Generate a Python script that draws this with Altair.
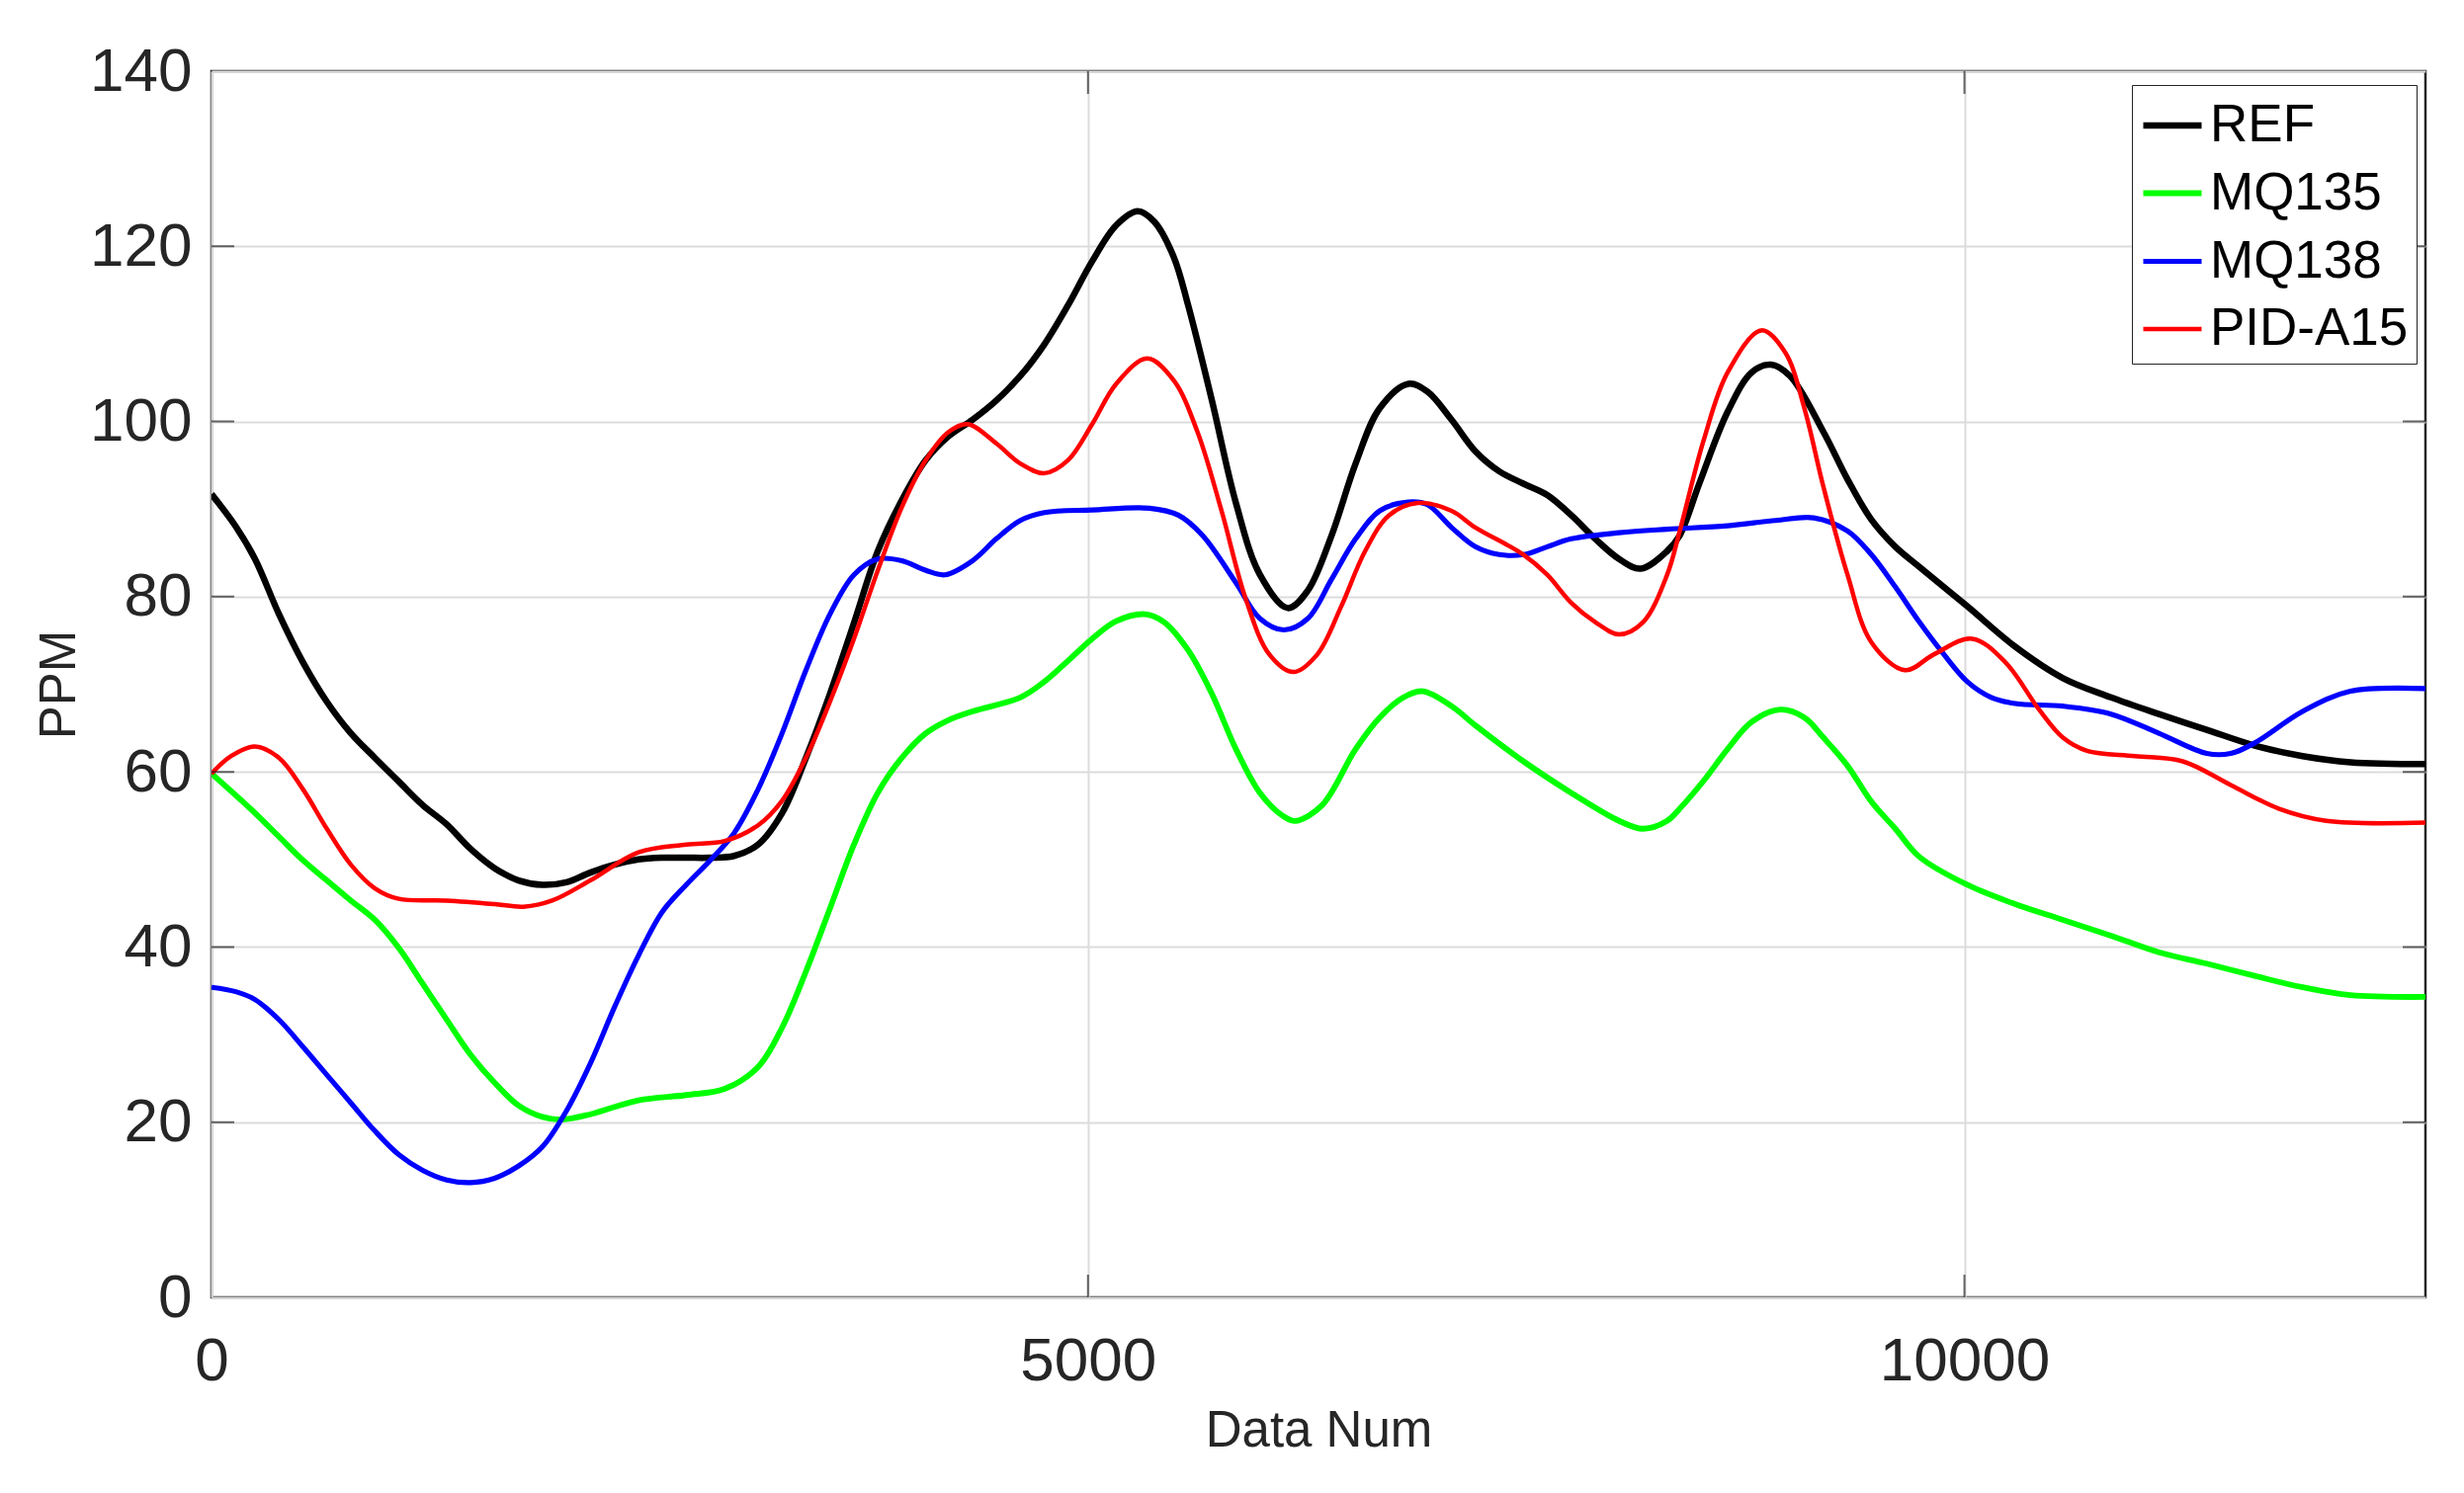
import altair as alt
import pandas as pd

series_order = ["REF", "MQ135", "MQ138", "PID-A15"]
series_colors = ["#000000", "#00ff00", "#0000ff", "#ff0000"]
series_widths = [6.5, 4.5, 4.5, 4.5]

ref_x = [0, 139, 248, 385, 522, 658, 795, 932, 1068, 1205, 1342, 1478, 1615, 1752, 1888, 2025, 2161, 2298,
         2435, 2571, 2708, 2845, 2981, 3118, 3255, 3391, 3528, 3665, 3801, 3938, 4075, 4204, 4341, 4477, 4614,
         4751, 4887, 5024, 5161, 5284, 5379, 5489, 5571, 5707, 5844, 5981, 6140, 6254, 6390, 6527, 6664, 6828,
         6937, 7074, 7210, 7347, 7484, 7620, 7757, 7894, 8030, 8153, 8304, 8376, 8489, 8649, 8786, 8895, 9005,
         9196, 9333, 9469, 9606, 9743, 10016, 10289, 10562, 10836, 11109, 11382, 11656, 11929, 12202, 12630]
ref_y = [91.7, 88, 84.3, 78, 72.5, 68, 64.4, 61.6, 58.9, 56.2, 54, 51.2, 49, 47.6, 47.1, 47.4, 48.5, 49.4,
         50, 50.2, 50.2, 50.2, 50.4, 51.7, 55.3, 61.6, 68.9, 77, 85.2, 91, 95.6, 98.3, 100.2, 102.4, 105.2,
         108.8, 113.3, 118.3, 122.4, 124, 122.8, 118.8, 113.3, 102.4, 90.7, 82.5, 78.7, 80.7, 87, 95.2, 101.5, 104.3,
         103.4, 100.2, 96.6, 94.3, 92.9, 91.6, 89.3, 86.6, 84.3, 83.2, 85.2, 87, 93, 101.1, 105.6, 106.5, 105.2,
         98.8, 93.4, 88.8, 85.7, 83.4, 78.9, 74.3, 70.7, 68.5, 66.6, 64.8, 63, 61.8, 61.1, 60.9]

mq135_x = [0, 248, 385, 522, 658, 795, 932, 1068, 1205, 1342, 1478, 1615, 1752, 1888, 1997, 2161, 2435, 2708,
           2927, 3118, 3255, 3391, 3528, 3665, 3801, 3938, 4075, 4204, 4341, 4614, 4751, 4887, 5024, 5161, 5325,
           5434, 5571, 5707, 5844, 5981, 6117, 6185, 6336, 6527, 6664, 6800, 6910, 7074, 7210, 7484, 7757, 8030,
           8167, 8304, 8376, 8513, 8649, 8786, 8950, 9087, 9196, 9333, 9469, 9606, 9743, 10016, 10289, 10562,
           10836, 11109, 11382, 11656, 11929, 12202, 12630]
mq135_y = [59.8, 55.3, 52.6, 49.9, 47.6, 45.3, 43.1, 39.9, 35.8, 31.7, 27.7, 24.5, 21.9, 20.6, 20.3, 20.9, 22.5, 23.1,
           23.8, 26.3, 30.8, 37.2, 44.4, 51.7, 57.6, 61.6, 64.4, 65.9, 66.9, 68.5, 70.3, 72.7, 75.2, 77.2, 78,
           77.1, 73.9, 68.9, 62.6, 57.6, 54.9, 54.4, 56.2, 62.6, 66.2, 68.5, 69.2, 67.5, 65.3, 61.2, 57.6, 54.4,
           53.5, 54.4, 55.8, 59, 62.6, 65.7, 67.1, 66.2, 63.9, 60.7, 56.6, 53.5, 50.3, 47.1, 44.9, 43.1,
           41.3, 39.4, 38.1, 36.7, 35.4, 34.5, 34.3]

mq138_x = [0, 139, 248, 385, 522, 658, 795, 932, 1068, 1205, 1342, 1478, 1615, 1752, 1888, 2025, 2161, 2298,
           2435, 2571, 2708, 2845, 2981, 3118, 3255, 3391, 3528, 3665, 3801, 3938, 4075, 4184, 4341, 4477, 4614,
           4751, 5024, 5352, 5516, 5653, 5844, 5981, 6117, 6254, 6390, 6527, 6664, 6828, 6937, 7074, 7210, 7347,
           7484, 7620, 7757, 8030, 8304, 8649, 8923, 9141, 9333, 9469, 9606, 9743, 9879, 10016, 10153, 10289,
           10562, 10836, 11109, 11382, 11519, 11656, 11929, 12202, 12630]
mq138_y = [35.4, 34.9, 34, 31.7, 28.6, 25.4, 22.2, 19, 16.3, 14.5, 13.4, 13.1, 13.6, 15, 17.2, 21.3, 26.7, 33.1,
           39, 44, 47.1, 49.9, 53, 58, 64.4, 71.6, 78, 82.5, 84.3, 84.1, 83, 82.5, 84.1, 86.6, 88.7,
           89.6, 89.9, 90.1, 89.3, 87, 81.6, 77.5, 76.2, 77.5, 82, 86.6, 89.8, 90.8, 90.5, 87.9, 85.7, 84.8,
           84.8, 85.7, 86.6, 87.3, 87.7, 88.1, 88.7, 89, 87.5, 84.8, 81.1, 77.1, 73.5, 70.3, 68.5, 67.8,
           67.5, 66.6, 64.4, 62.1, 62.1, 63.3, 66.9, 69.2, 69.5]

pid_x = [0, 112, 248, 385, 522, 658, 795, 932, 1068, 1342, 1615, 1779, 1943, 2161, 2435, 2708, 2927, 3118,
         3255, 3391, 3528, 3665, 3801, 3938, 4075, 4204, 4313, 4477, 4614, 4751, 4887, 5024, 5161, 5338, 5489,
         5625, 5762, 5899, 6035, 6172, 6308, 6445, 6581, 6718, 6882, 7074, 7210, 7484, 7620, 7757, 7894, 8030,
         8167, 8304, 8376, 8513, 8649, 8841, 8977, 9087, 9196, 9333, 9469, 9661, 9825, 10043, 10234, 10426,
         10562, 10699, 10972, 11245, 11519, 11792, 12065, 12630]
pid_y = [59.8, 61.8, 62.9, 61.6, 58, 53.5, 49.4, 46.7, 45.5, 45.3, 44.9, 44.6, 45.3, 47.6, 50.8, 51.7, 52.1, 53.9,
         56.7, 61.6, 68, 75.2, 83, 90.2, 95.6, 98.8, 99.7, 97.5, 95.2, 94.1, 95.6, 99.7, 104.3, 107.2, 104.7,
         98.8, 89.8, 79.8, 73.4, 71.4, 73.4, 78.9, 85.2, 89.3, 90.7, 89.8, 87.9, 84.8, 82.5, 79.3, 77.1, 75.7,
         77.1, 82.5, 87.5, 97.9, 105.6, 110.4, 107.9, 101.5, 92.5, 82.5, 74.8, 71.6, 73.4, 75.2, 72.5, 67.1,
         63.9, 62.4, 61.8, 61.2, 58.5, 55.8, 54.4, 54.2]

x_ticks = [0, 5000, 10000]
y_ticks = [0, 20, 40, 60, 80, 100, 120, 140]
x_max = 12630
y_max = 140

rows = []
for name, xs, ys in [("REF", ref_x, ref_y), ("MQ135", mq135_x, mq135_y),
                     ("MQ138", mq138_x, mq138_y), ("PID-A15", pid_x, pid_y)]:
    for xv, yv in zip(xs, ys):
        rows.append({"series": name, "x": xv, "y": yv, "order": series_order.index(name)})
df = pd.DataFrame(rows)

font = "Liberation Sans"
xscale = alt.Scale(domain=[0, x_max], nice=False, zero=False)
yscale = alt.Scale(domain=[0, y_max], nice=False)

lines = alt.Chart(df).mark_line(interpolate="catmull-rom", clip=True).encode(
    x=alt.X("x:Q", scale=xscale, title="Data Num",
            axis=alt.Axis(values=x_ticks, grid=True, ticks=False, domain=False,
                          labelFontSize=62, labelPadding=34, titleFontSize=51,
                          titlePadding=15, format="d", labelFlush=False)),
    y=alt.Y("y:Q", scale=yscale, title="PPM",
            axis=alt.Axis(values=y_ticks, grid=True, ticks=False, domain=False,
                          labelFontSize=62, labelPadding=20, titleFontSize=51,
                          titlePadding=4, labelFlush=False)),
    color=alt.Color("series:N", sort=series_order,
                    scale=alt.Scale(domain=series_order, range=series_colors),
                    legend=alt.Legend(title=None, orient="none", legendX=1943, legendY=14,
                                      symbolType="stroke", symbolSize=3481, symbolStrokeWidth=5,
                                      labelFontSize=53, labelFont=font, labelColor="#000000",
                                      labelOffset=5, rowPadding=9, padding=8, labelLimit=400,
                                      strokeColor="#262626", fillColor="#ffffff")),
    strokeWidth=alt.StrokeWidth("series:N", sort=series_order,
                                scale=alt.Scale(domain=series_order, range=series_widths),
                                legend=None),
    detail="series:N",
    order="order:Q",
)

ytick_df = pd.DataFrame([{"x": xv, "y": yv} for xv in [0, x_max] for yv in y_ticks[1:-1]])
xtick_df = pd.DataFrame([{"x": xv, "y": yv} for yv in [0, y_max] for xv in x_ticks[1:]])

yticks = alt.Chart(ytick_df).mark_tick(orient="horizontal", size=46, thickness=2,
                                       color="#262626", clip=True).encode(
    x=alt.X("x:Q", scale=xscale), y=alt.Y("y:Q", scale=yscale))
xticks = alt.Chart(xtick_df).mark_tick(orient="vertical", size=46, thickness=2,
                                       color="#262626", clip=True).encode(
    x=alt.X("x:Q", scale=xscale), y=alt.Y("y:Q", scale=yscale))

chart = alt.layer(lines, yticks, xticks).properties(
    width=2240, height=1241,
    autosize=alt.AutoSizeParams(type="none"),
    padding={"left": 206, "top": 64, "right": 31, "bottom": 190},
    background="#ffffff",
).configure_view(
    stroke="#262626", strokeWidth=2.5
).configure_axis(
    labelFont=font, titleFont=font, labelColor="#262626", titleColor="#262626",
    titleFontWeight="normal", gridColor="#dcdcdc", gridWidth=2
)

chart.save("out.html", embed_options={"renderer": "svg", "actions": False})
